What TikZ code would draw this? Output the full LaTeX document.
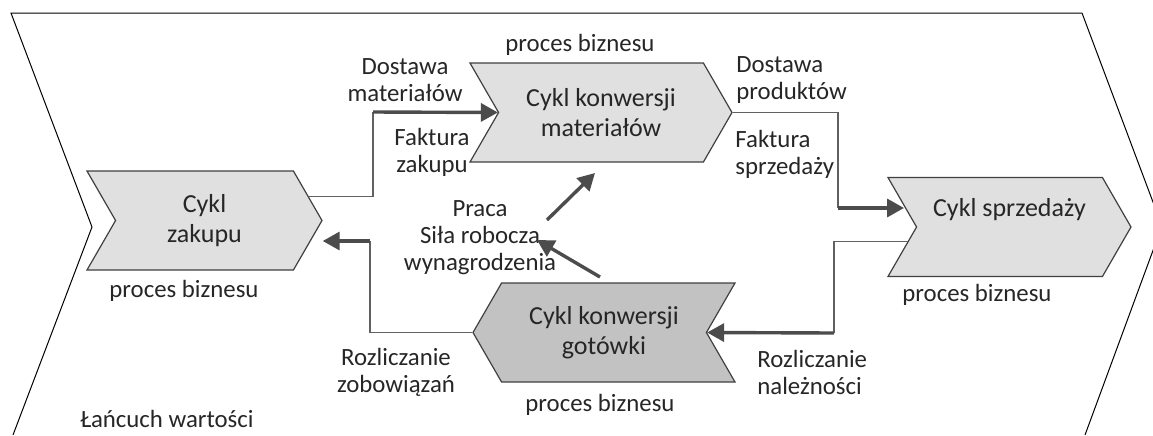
\documentclass[tikz,border=0pt]{standalone}
\usepackage{fontspec}
\setmainfont{Carlito}
\usetikzlibrary{shapes.symbols,arrows.meta}

\begin{document}
\begin{tikzpicture}[x=0.5pt,y=-0.5pt,
	cyc/.style={shape=signal, signal pointer angle=120, draw=black!75, line width=0.6pt, fill=black!12, minimum height=49.5pt, inner sep=0pt, align=center, font=\fontsize{13}{15}\selectfont, text=black!85},
	lbl/.style={align=center, font=\fontsize{12.4}{13.5}\selectfont, text=black!85, inner sep=0pt},
	link/.style={draw=black!62, line width=0.75pt},
	flow/.style={draw=black!70, line width=1.7pt, -{Triangle[length=8.5pt,width=9pt]}}]
		\useasboundingbox (0,0) rectangle (1153,435);
		\clip (0,0) rectangle (1153,435);
		% value chain
		\draw[line width=0.5pt] (13,435) -- (92,227) -- (11,13) -- (1082,13) -- (1162,226) -- (1085,435);
		\node[lbl] (lancuch) at (167,419) {Łańcuch wartości};
		% cycles
		\node[cyc, signal from=west, signal to=east, minimum width=117.5pt] (zakup) at (204.5,220.5) {Cykl\\zakupu};
		\node[cyc, signal from=west, signal to=east, minimum width=131pt] (mat) at (601,112.5) {Cykl konwersji\\materiałów};
		\node[cyc, signal from=west, signal to=east, minimum width=121.5pt] (sprz) at (1009.5,227) {Cykl sprzedaży\\[5pt]~};
		\node[cyc, signal from=east, signal to=west, minimum width=131pt, fill=black!24] (got) at (604,332.5) {Cykl konwersji\\gotówki};
		\node[lbl] (proczak) at (184,291) {proces biznesu};
		\node[lbl] (procmat) at (580,45) {proces biznesu};
		\node[lbl] (procsprz) at (977,295) {proces biznesu};
		\node[lbl] (procgot) at (600,405) {proces biznesu};
		% flows
		\node[lbl] (dostmat) at (405,80) {Dostawa\\materiałów};
		\node[lbl] (faktzak) at (432,152) {Faktura\\zakupu};
		\node[lbl, align=left, anchor=west] (dostprod) at (736,80) {Dostawa\\produktów};
		\node[lbl, align=left, anchor=west] (faktsprz) at (735,154) {Faktura\\sprzedaży};
		\node[lbl] (praca) at (480,238) {Praca\\Siła robocza\\wynagrodzenia};
		\node[lbl] (rozlzob) at (396,372) {Rozliczanie\\zobowiązań};
		\node[lbl, align=left, anchor=west] (rozlnal) at (757,372) {Rozliczanie\\należności};
		\coordinate (k1) at (373,112);
		\coordinate (k2) at (838,208);
		\coordinate (k3) at (834,333);
		\coordinate (k4) at (370,241);
		\coordinate (w1) at (547,220);
		\coordinate (w2) at (595,173);
		\coordinate (w3) at (600,277);
		\coordinate (w4) at (537,240);
		\draw[link] (zakup.13) -| (k1);
		\draw[flow] (k1) -- (mat.west);
		\draw[link] (mat.east) -| (k2);
		\draw[flow] (k2) -- (k2 -| sprz.169);
		\draw[link] (sprz.188) -| (k3);
		\draw[flow] (k3) -- (got.east);
		\draw[link] (got.west) -| (k4);
		\draw[flow] (k4) -- (k4 -| zakup.east);
		\draw[flow] (w1) -- (w2);
		\draw[flow] (w3) -- (w4);
\end{tikzpicture}
\end{document}
